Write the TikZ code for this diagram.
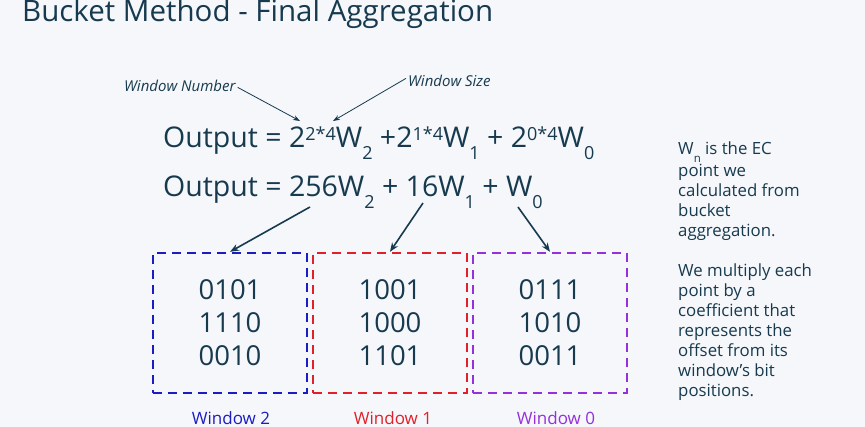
\documentclass[tikz,border=0pt]{standalone}
\usepackage{fontspec}
\setmainfont{Open Sans}
\usetikzlibrary{arrows.meta}
\definecolor{ink}{HTML}{173A4F}
\definecolor{bg}{HTML}{F5F7FA}
\definecolor{wblue}{HTML}{1C1CC4}
\definecolor{wred}{HTML}{E0202A}
\definecolor{wpurple}{HTML}{9430DC}
\newcommand{\myup}[1]{\raisebox{7.5pt}{\fontsize{18}{18}\selectfont #1}}
\newcommand{\mydn}[1]{\raisebox{-12pt}{\fontsize{18}{18}\selectfont #1}}
\newcommand{\smdn}[1]{\raisebox{-8pt}{\fontsize{11.5}{11.5}\selectfont #1}}
\begin{document}
\begin{tikzpicture}[x=1pt,y=-1pt,
  txt/.style={inner sep=0pt, text=ink},
  eq/.style={txt, anchor=base west, font=\fontsize{28.5}{28.5}\selectfont},
  bits/.style={txt, font=\fontsize{27.5}{33}\selectfont, align=center},
  winbox/.style={draw, line width=2.4pt, dash pattern=on 9pt off 6pt, minimum width=154pt, minimum height=140pt, inner sep=0pt},
  winlab/.style={inner sep=0pt, anchor=base, font=\fontsize{17}{17}\selectfont},
  thin arrow/.style={draw=ink, line width=0.8pt, -{Stealth[length=7pt,width=5pt]}},
  big arrow/.style={draw=ink, line width=1.6pt, -{Stealth[length=9pt,width=7pt]}},
  note/.style={txt, font=\itshape\fontsize{15}{15}\selectfont}]
\fill[bg] (0,0) rectangle (865,427);
\useasboundingbox (0,0) rectangle (865,427);
\node[txt, anchor=base west, font=\fontsize{29.5}{29.5}\selectfont] (title) at (22,22) {Bucket Method - Final Aggregation};
\node[note, anchor=base west] (wnum) at (124,92) {Window Number};
\node[note, anchor=base west] (wsize) at (408,87) {Window Size};
\node[eq] (eq1) at (163,148) {Output = 2\myup{2*4}W\mydn{2} +2\myup{1*4}W\mydn{1} + 2\myup{0*4}W\mydn{0}};
\node[eq] (eq2) at (163,197) {Output = 256W\mydn{2} + 16W\mydn{1} + W\mydn{0}};
\coordinate (wnumtip) at (300,121);
\coordinate (wsizetip) at (333,121);
\coordinate (a1s) at (310,207);
\coordinate (a2s) at (423,203);
\coordinate (a3s) at (518,207);
\draw[thin arrow] (wnum.east) ++(2,1) -- (wnumtip);
\draw[thin arrow] (wsize.west) ++(-2,-3) -- (wsizetip);
\node[winbox, draw=wblue] (b2) at (230,323) {};
\node[winbox, draw=wred] (b1) at (390,323) {};
\node[winbox, draw=wpurple] (b0) at (550,323) {};
\node[bits] (t2) at (b2) {0101\\1110\\0010};
\node[bits] (t1) at (b1) {1001\\1000\\1101};
\node[bits] (t0) at (b0) {0111\\1010\\0011};
\draw[big arrow] (a1s) -- (b2.north);
\draw[big arrow] (a2s) -- (b1.north);
\draw[big arrow] (a3s) -- (b0.north);
\node[winlab, text=wblue] (l2) at (231,425) {Window 2};
\node[winlab, text=wred] (l1) at (393,425) {Window 1};
\node[winlab, text=wpurple] (l0) at (556,425) {Window 0};
\node[txt, anchor=north west, align=left, font=\fontsize{16.8}{20}\selectfont] (side) at (678,142)
 {W\smdn{n} is the EC\\point we\\calculated from\\bucket\\aggregation.\\[20pt]We multiply each\\point by a\\coefficient that\\represents the\\offset from its\\window's bit\\positions.};
\end{tikzpicture}
\end{document}
